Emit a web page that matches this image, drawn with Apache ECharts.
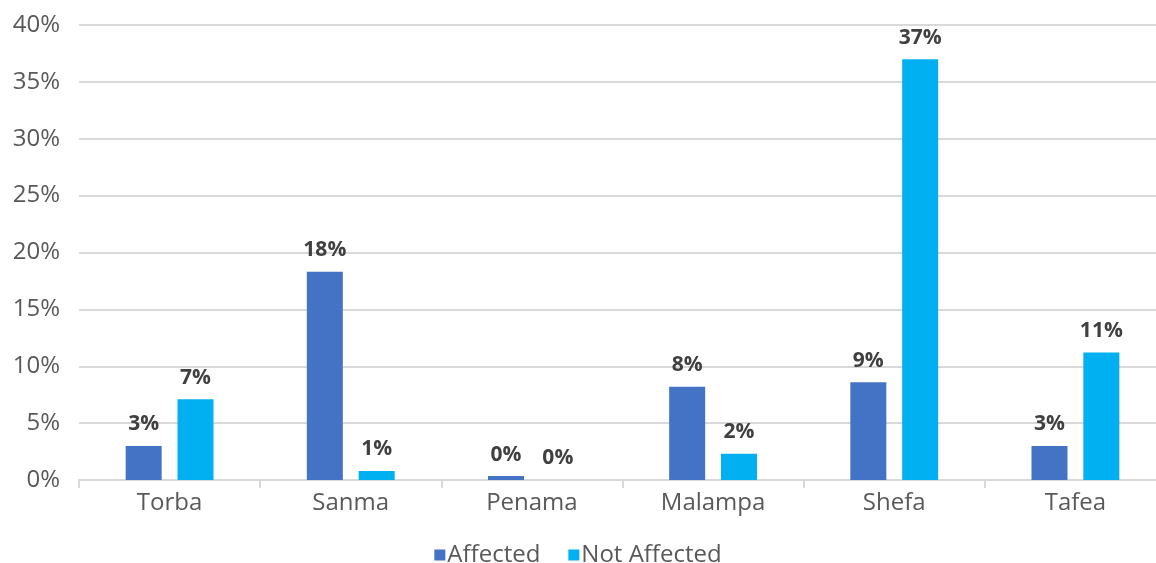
<!DOCTYPE html>
<html>
<head>
<meta charset="utf-8">
<script src="https://cdn.jsdelivr.net/npm/echarts@6/dist/echarts.min.js"></script>
<style>
  html, body { margin: 0; padding: 0; background: #fff; }
  #chart { width: 1156px; height: 563px; }
</style>
</head>
<body>
<div id="chart"></div>
<script>
const provinces = ["Torba", "Sanma", "Penama", "Malampa", "Shefa", "Tafea"];
const affected = [3.0, 18.3, 0.35, 8.2, 8.6, 3.0];
const notAffected = [7.1, 0.8, 0, 2.3, 37.0, 11.2];

const fontFamily = "'Open Sans', 'Noto Sans', sans-serif";

const myChart = echarts.init(document.getElementById("chart"));

const labelStyle = {
    show: true,
    position: "top",
    distance: 11,
    color: "#404040",
    fontSize: 21,
    fontWeight: "bold",
    fontFamily: fontFamily,
    formatter: (p) => Math.round(p.value) + "%",
};

const option = {
    animation: false,
    grid: {
        left: 79,
        right: -10,
        top: 25,
        bottom: 83,
        outerBoundsMode: "none",
        containLabel: false,
    },
    legend: {
        top: 538,
        left: "center",
        itemWidth: 11,
        itemHeight: 11,
        itemGap: 28,
        icon: "rect",
        textStyle: {
            color: "#595959",
            fontSize: 24,
            fontFamily: fontFamily,
            padding: [0, 0, 0, -3],
        },
        data: ["Affected", "Not Affected"],
    },
    xAxis: {
        type: "category",
        data: provinces,
        axisLine: { lineStyle: { color: "#d9d9d9", width: 2 } },
        axisTick: { show: true, length: 8, lineStyle: { color: "#d9d9d9", width: 2 } },
        axisLabel: {
            color: "#595959",
            fontSize: 24,
            fontFamily: fontFamily,
            margin: 11,
        },
    },
    yAxis: {
        type: "value",
        min: 0,
        max: 40,
        interval: 5,
        axisLine: { show: false },
        axisTick: { show: false },
        splitLine: { lineStyle: { color: "#d9d9d9", width: 2 } },
        axisLabel: {
            formatter: "{value}%",
            color: "#595959",
            fontSize: 24,
            fontFamily: fontFamily,
            margin: 19,
        },
    },
    series: [
        {
            name: "Affected",
            type: "bar",
            data: affected,
            barWidth: 36,
            barGap: "44%",
            itemStyle: { color: "#4472c4" },
            label: labelStyle,
        },
        {
            name: "Not Affected",
            type: "bar",
            data: notAffected,
            barWidth: 36,
            itemStyle: { color: "#00b0f0" },
            label: labelStyle,
        },
    ],
};

option && myChart.setOption(option);
</script>
</body>
</html>
